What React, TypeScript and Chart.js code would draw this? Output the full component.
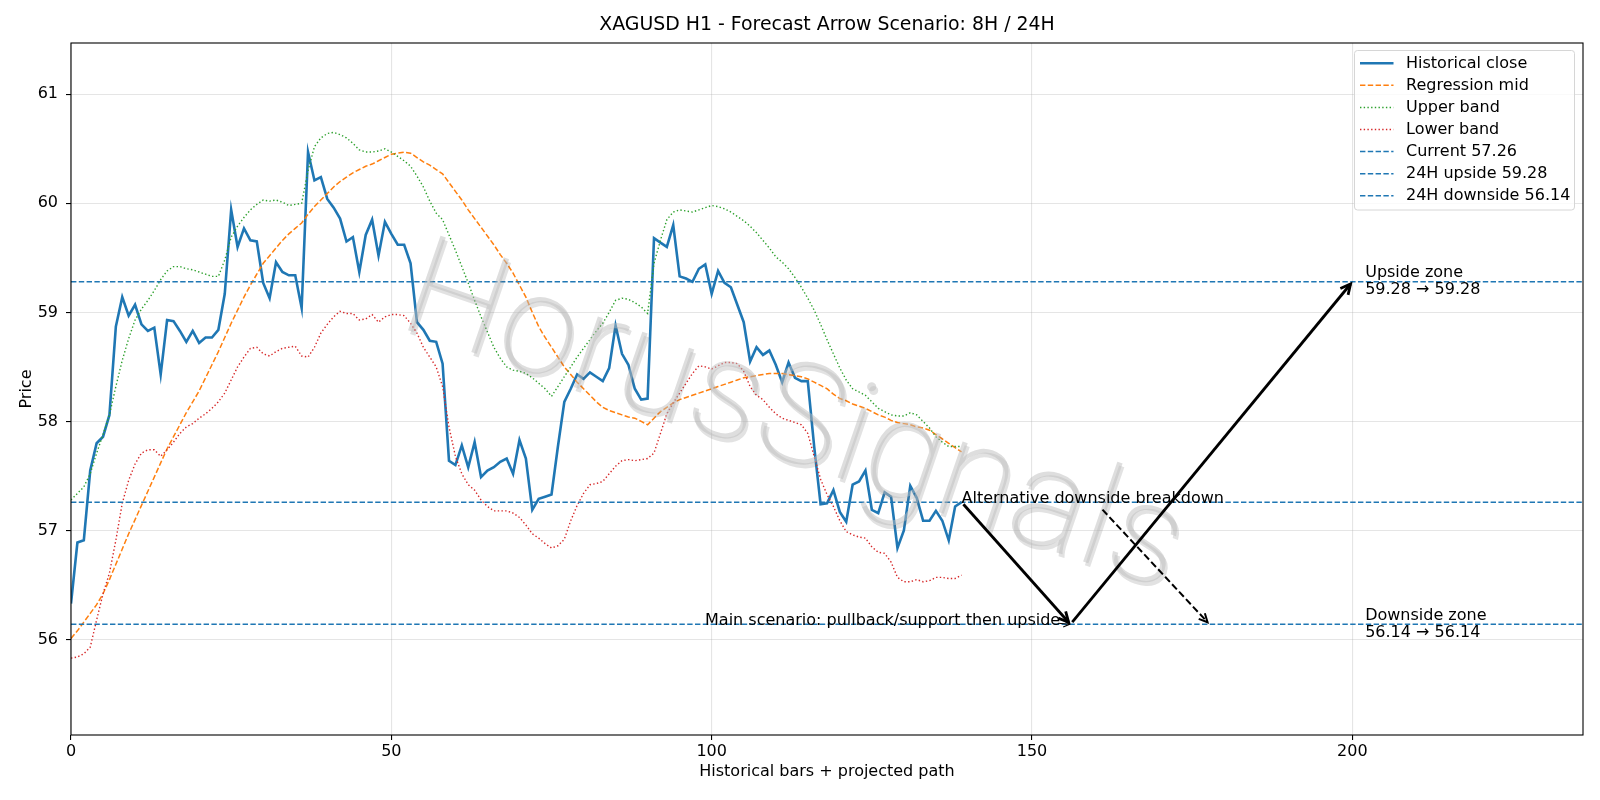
import React, { useEffect, useRef } from "react";
import { Chart, registerables } from "chart.js";

Chart.register(...registerables);

// ---- chart values ----------------------------------------------------------
const TITLE = "XAGUSD H1 - Forecast Arrow Scenario: 8H / 24H";
const X_LABEL = "Historical bars + projected path";
const Y_LABEL = "Price";
const WATERMARK = "HorusSignals";

const CURRENT = 57.26;
const UPSIDE = 59.28;
const DOWNSIDE = 56.14;

const X_MIN = 0;
const X_MAX = 236;
const Y_MIN = 55.125;
const Y_MAX = 61.47;
const xTicks = [0, 50, 100, 150, 200];
const yTicks = [56, 57, 58, 59, 60, 61];

const closePrices = [
  56.33, 56.89, 56.91, 57.55, 57.8, 57.86, 58.06, 58.87, 59.14, 58.97,
  59.07, 58.89, 58.83, 58.86, 58.43, 58.93, 58.92, 58.83, 58.73, 58.83,
  58.72, 58.77, 58.77, 58.84, 59.17, 59.94, 59.6, 59.77, 59.66, 59.65,
  59.27, 59.13, 59.46, 59.37, 59.34, 59.34, 59.04, 60.47, 60.21, 60.24,
  60.04, 59.96, 59.86, 59.65, 59.69, 59.37, 59.71, 59.85, 59.52, 59.83,
  59.72, 59.62, 59.62, 59.45, 58.91, 58.84, 58.74, 58.73, 58.53, 57.64,
  57.6, 57.78, 57.58, 57.81, 57.49, 57.55, 57.58, 57.63, 57.66, 57.52,
  57.83, 57.66, 57.19, 57.29, 57.31, 57.33, 57.77, 58.18, 58.3, 58.43,
  58.39, 58.45, 58.41, 58.37, 58.49, 58.88, 58.62, 58.52, 58.3, 58.2,
  58.21, 59.68, 59.64, 59.6, 59.8, 59.33, 59.31, 59.28, 59.4, 59.44,
  59.17, 59.38, 59.27, 59.23, 59.07, 58.91, 58.55, 58.68, 58.61, 58.65,
  58.52, 58.36, 58.54, 58.4, 58.37, 58.37, 57.77, 57.24, 57.25, 57.37,
  57.17, 57.08, 57.42, 57.45, 57.55, 57.19, 57.16, 57.35, 57.31, 56.84,
  57.0, 57.41, 57.3, 57.09, 57.09, 57.18, 57.09, 56.91, 57.22, 57.26,
];

const regressionMid = [
  56.01, 56.08, 56.16, 56.24, 56.32, 56.42, 56.55, 56.69, 56.83, 56.97,
  57.1, 57.23, 57.36, 57.49, 57.62, 57.75, 57.86, 57.97, 58.08, 58.18,
  58.28, 58.4, 58.52, 58.64, 58.77, 58.9, 59.02, 59.14, 59.25, 59.35,
  59.45, 59.52, 59.59, 59.66, 59.72, 59.77, 59.82, 59.9, 59.97, 60.03,
  60.09, 60.15, 60.2, 60.24, 60.28, 60.31, 60.34, 60.36, 60.39, 60.42,
  60.45, 60.46, 60.47, 60.46, 60.42, 60.38, 60.35, 60.31, 60.27, 60.19,
  60.11, 60.03, 59.94, 59.86, 59.78, 59.7, 59.62, 59.53, 59.45, 59.36,
  59.25, 59.14, 59.0, 58.87, 58.77, 58.68, 58.59, 58.5, 58.43, 58.36,
  58.3, 58.24, 58.18, 58.13, 58.1, 58.08, 58.06, 58.04, 58.03, 58.0,
  57.97, 58.03, 58.09, 58.13, 58.17, 58.2, 58.22, 58.24, 58.26, 58.28,
  58.3, 58.32, 58.34, 58.36, 58.38, 58.4, 58.41, 58.42, 58.43, 58.44,
  58.44, 58.44, 58.43, 58.42, 58.41, 58.39, 58.36, 58.33, 58.3, 58.25,
  58.21, 58.19, 58.16, 58.14, 58.12, 58.09, 58.06, 58.04, 58.01, 57.99,
  57.98, 57.97, 57.95, 57.94, 57.92, 57.88, 57.84, 57.8, 57.76, 57.72,
];

const upperBand = [
  57.28, 57.34, 57.4, 57.52, 57.71, 57.88, 58.06, 58.32, 58.56, 58.76,
  58.93, 59.03, 59.11, 59.2, 59.3, 59.38, 59.42, 59.42, 59.4, 59.39,
  59.37, 59.35, 59.33, 59.33, 59.48, 59.69, 59.79, 59.87, 59.94, 59.99,
  60.03, 60.02, 60.03, 60.01, 59.98, 59.99, 60.0, 60.3, 60.52, 60.6,
  60.64, 60.65, 60.63, 60.6, 60.55, 60.49, 60.47, 60.47, 60.48, 60.5,
  60.47, 60.43, 60.39, 60.34, 60.25, 60.15, 60.02, 59.91, 59.85, 59.71,
  59.57, 59.42, 59.27, 59.11, 58.96, 58.82, 58.68, 58.58, 58.5, 58.47,
  58.46, 58.44, 58.4, 58.35, 58.3, 58.23, 58.32, 58.41, 58.5, 58.59,
  58.67, 58.75, 58.83, 58.9, 59.0, 59.11, 59.13, 59.12, 59.09, 59.05,
  58.99, 59.45, 59.66, 59.85, 59.92, 59.94, 59.93, 59.92, 59.94, 59.96,
  59.98, 59.97, 59.95, 59.92, 59.88, 59.84, 59.79, 59.73, 59.66, 59.59,
  59.51, 59.46, 59.4, 59.32, 59.23, 59.13, 59.02, 58.89, 58.75, 58.62,
  58.49, 58.38, 58.3, 58.27, 58.24, 58.18, 58.12, 58.09, 58.06, 58.05,
  58.05, 58.08, 58.06, 58.0, 57.94, 57.86, 57.81, 57.77, 57.77, 57.77,
];

const lowerBand = [
  55.83, 55.84, 55.87, 55.93, 56.18, 56.42, 56.61, 56.91, 57.25, 57.46,
  57.61, 57.71, 57.74, 57.74, 57.68, 57.74, 57.81, 57.89, 57.95, 57.98,
  58.03, 58.07, 58.12, 58.18, 58.26, 58.38, 58.5, 58.59, 58.67, 58.68,
  58.62, 58.6, 58.64, 58.67, 58.68, 58.69, 58.6, 58.59, 58.68, 58.81,
  58.89, 58.96, 59.01, 58.99, 58.99, 58.93, 58.94, 58.98, 58.91, 58.96,
  58.98, 58.98, 58.97, 58.9, 58.81, 58.68, 58.59, 58.5, 58.32, 57.95,
  57.68, 57.52, 57.42, 57.37, 57.28, 57.22, 57.18, 57.18, 57.18, 57.16,
  57.12, 57.05, 56.97, 56.93, 56.88, 56.84, 56.86, 56.92, 57.09, 57.23,
  57.34, 57.42, 57.43, 57.45, 57.52, 57.59, 57.64, 57.65, 57.64, 57.65,
  57.66, 57.71, 57.89, 58.07, 58.17, 58.26, 58.35, 58.44, 58.51, 58.5,
  58.48, 58.51, 58.54, 58.54, 58.53, 58.46, 58.32, 58.24, 58.2, 58.13,
  58.07, 58.03, 58.01, 57.99, 57.97, 57.89, 57.68, 57.47, 57.33, 57.22,
  57.09, 56.99, 56.96, 56.94, 56.93, 56.85, 56.8, 56.79, 56.71, 56.57,
  56.53, 56.53, 56.55, 56.53, 56.54, 56.57, 56.57, 56.56, 56.56, 56.59,
];

// projected main path: current -> support -> upside target
const mainPathX = [139, 156, 200];
const mainPathY = [CURRENT, DOWNSIDE, UPSIDE];
// alternative breakdown arrow (dashed)
const altPathX = [160.7, 177.7];
const altPathY = [57.21, DOWNSIDE];

const MAIN_TEXT = "Main scenario: pullback/support then upside";
const ALT_TEXT = "Alternative downside breakdown";
const MAIN_TEXT_X = 154.4;
const ZONE_TEXT_X = 202;

const legendLabels = [
  "Historical close",
  "Regression mid",
  "Upper band",
  "Lower band",
  `Current ${CURRENT.toFixed(2)}`,
  `24H upside ${UPSIDE.toFixed(2)}`,
  `24H downside ${DOWNSIDE.toFixed(2)}`,
];

// ---- styling ----------------------------------------------------------------
const FONT = "'DejaVu Sans', 'Liberation Sans', sans-serif";
const MARK_FONT = "Roboto, 'Open Sans', 'DejaVu Sans', sans-serif";
const TEXT_PX = 16;
const TITLE_PX = 18.9;
const BLUE = "#1f77b4";
const ORANGE = "#ff7f0e";
const GREEN = "#2ca02c";
const RED = "#d62728";
const DASH = [5.4, 2.4];
const DOT = [1.4, 2.3];

const legendStyles = [
  { color: BLUE, width: 2.6, dash: [] as number[] },
  { color: ORANGE, width: 1.5, dash: DASH },
  { color: GREEN, width: 1.4, dash: DOT },
  { color: RED, width: 1.4, dash: DOT },
  { color: BLUE, width: 1.5, dash: DASH },
  { color: BLUE, width: 1.5, dash: DASH },
  { color: BLUE, width: 1.5, dash: DASH },
];

const toPoints = (ys: number[]) => ys.map((y, i) => ({ x: i, y }));
const hLine = (y: number) => [
  { x: X_MIN, y },
  { x: X_MAX, y },
];

function drawArrow(
  ctx: CanvasRenderingContext2D,
  x1: number,
  y1: number,
  x2: number,
  y2: number,
  opts: { width: number; dash: number[]; headLen: number; headW: number; shrink: number }
) {
  const dx = x2 - x1;
  const dy = y2 - y1;
  const len = Math.hypot(dx, dy) || 1;
  const ux = dx / len;
  const uy = dy / len;
  const sx = x1 + ux * opts.shrink;
  const sy = y1 + uy * opts.shrink;
  const ex = x2 - ux * opts.shrink;
  const ey = y2 - uy * opts.shrink;
  ctx.save();
  ctx.strokeStyle = "#000";
  ctx.lineWidth = opts.width;
  ctx.lineCap = "butt";
  ctx.lineJoin = "miter";
  ctx.setLineDash(opts.dash);
  ctx.beginPath();
  ctx.moveTo(sx, sy);
  ctx.lineTo(ex, ey);
  ctx.stroke();
  ctx.setLineDash([]);
  ctx.beginPath();
  ctx.moveTo(ex - ux * opts.headLen - uy * opts.headW, ey - uy * opts.headLen + ux * opts.headW);
  ctx.lineTo(ex, ey);
  ctx.lineTo(ex - ux * opts.headLen + uy * opts.headW, ey - uy * opts.headLen - ux * opts.headW);
  ctx.stroke();
  ctx.restore();
}

const decorPlugin = {
  id: "decor",
  beforeDraw(chart: any) {
    const ctx = chart.ctx as CanvasRenderingContext2D;
    ctx.save();
    ctx.fillStyle = "#fff";
    ctx.fillRect(0, 0, chart.width, chart.height);
    ctx.restore();
  },
  afterDatasetsDraw(chart: any) {
    const ctx = chart.ctx as CanvasRenderingContext2D;
    const xs = chart.scales.x;
    const ys = chart.scales.y;
    const px = (v: number) => xs.getPixelForValue(v);
    const py = (v: number) => ys.getPixelForValue(v);
    const area = chart.chartArea;

    // watermark: thin pale lettering with a soft offset shadow
    ctx.save();
    ctx.beginPath();
    ctx.rect(area.left, area.top, area.right - area.left, area.bottom - area.top);
    ctx.clip();
    ctx.translate(px(112.6), py(57.97));
    ctx.rotate(0.33);
    ctx.font = `200 120px ${MARK_FONT}`;
    const natural = ctx.measureText(WATERMARK).width || 1;
    const size = 120 * (815 / natural);
    ctx.font = `200 ${size.toFixed(1)}px ${MARK_FONT}`;
    ctx.textAlign = "center";
    ctx.textBaseline = "middle";
    ctx.fillStyle = "rgba(110,110,110,0.2)";
    ctx.fillText(WATERMARK, 3, 3);
    ctx.fillStyle = "rgba(190,190,190,0.5)";
    ctx.fillText(WATERMARK, 0, 0);
    ctx.restore();

    // projected path arrows
    for (let k = 0; k < mainPathX.length - 1; k++) {
      drawArrow(ctx, px(mainPathX[k]), py(mainPathY[k]), px(mainPathX[k + 1]), py(mainPathY[k + 1]), {
        width: 2.8,
        dash: [],
        headLen: 10,
        headW: 5,
        shrink: 2.8,
      });
    }
    drawArrow(ctx, px(altPathX[0]), py(altPathY[0]), px(altPathX[1]), py(altPathY[1]), {
      width: 2,
      dash: [7, 3.2],
      headLen: 8.5,
      headW: 4.2,
      shrink: 2.8,
    });

    // annotation texts
    ctx.save();
    ctx.fillStyle = "#000";
    ctx.font = `${TEXT_PX}px ${FONT}`;
    ctx.textBaseline = "alphabetic";
    ctx.textAlign = "left";
    ctx.fillText(ALT_TEXT, px(mainPathX[0]), py(CURRENT) + 0.5);
    ctx.textAlign = "right";
    ctx.fillText(MAIN_TEXT, px(MAIN_TEXT_X), py(DOWNSIDE) + 0.5);
    ctx.textAlign = "left";
    ctx.fillText("Upside zone", px(ZONE_TEXT_X), py(UPSIDE) - 4.5);
    ctx.fillText(`${UPSIDE.toFixed(2)} \u2192 ${UPSIDE.toFixed(2)}`, px(ZONE_TEXT_X), py(UPSIDE) + 12.5);
    ctx.fillText("Downside zone", px(ZONE_TEXT_X), py(DOWNSIDE) - 4.5);
    ctx.fillText(`${DOWNSIDE.toFixed(2)} \u2192 ${DOWNSIDE.toFixed(2)}`, px(ZONE_TEXT_X), py(DOWNSIDE) + 12.5);
    ctx.restore();

    // small pointer from the main scenario label to the support point
    drawArrow(ctx, px(MAIN_TEXT_X) - 2, py(DOWNSIDE) - 1, px(mainPathX[1]) - 1, py(DOWNSIDE), {
      width: 1.1,
      dash: [],
      headLen: 6,
      headW: 3.2,
      shrink: 0,
    });

    // axes frame
    ctx.save();
    ctx.strokeStyle = "#000";
    ctx.lineWidth = 1.1;
    ctx.strokeRect(area.left, area.top, area.right - area.left, area.bottom - area.top);
    ctx.restore();

    // legend
    ctx.save();
    const lx = 1354.5;
    const ly = 50.5;
    const lw = 220;
    const lh = 159.5;
    const r = 3;
    ctx.beginPath();
    ctx.moveTo(lx + r, ly);
    ctx.lineTo(lx + lw - r, ly);
    ctx.arcTo(lx + lw, ly, lx + lw, ly + r, r);
    ctx.lineTo(lx + lw, ly + lh - r);
    ctx.arcTo(lx + lw, ly + lh, lx + lw - r, ly + lh, r);
    ctx.lineTo(lx + r, ly + lh);
    ctx.arcTo(lx, ly + lh, lx, ly + lh - r, r);
    ctx.lineTo(lx, ly + r);
    ctx.arcTo(lx, ly, lx + r, ly, r);
    ctx.closePath();
    ctx.fillStyle = "rgba(255,255,255,0.8)";
    ctx.fill();
    ctx.strokeStyle = "#d6d6d6";
    ctx.lineWidth = 1;
    ctx.stroke();
    ctx.font = `${TEXT_PX}px ${FONT}`;
    ctx.textBaseline = "middle";
    ctx.textAlign = "left";
    legendLabels.forEach((label, k) => {
      const yy = 63.3 + k * 22.07;
      const st = legendStyles[k];
      ctx.strokeStyle = st.color;
      ctx.lineWidth = st.width;
      ctx.setLineDash(st.dash);
      ctx.beginPath();
      ctx.moveTo(1360, yy);
      ctx.lineTo(1393.5, yy);
      ctx.stroke();
      ctx.setLineDash([]);
      ctx.fillStyle = "#000";
      ctx.fillText(label, 1406, yy + 0.5);
    });
    ctx.restore();

    // title and axis labels
    ctx.save();
    ctx.fillStyle = "#000";
    ctx.textAlign = "center";
    ctx.textBaseline = "alphabetic";
    ctx.font = `${TITLE_PX}px ${FONT}`;
    ctx.fillText(TITLE, (area.left + area.right) / 2, 30);
    ctx.font = `${TEXT_PX}px ${FONT}`;
    ctx.fillText(X_LABEL, (area.left + area.right) / 2, 776);
    ctx.translate(26.5, (area.top + area.bottom) / 2);
    ctx.rotate(-Math.PI / 2);
    ctx.textBaseline = "middle";
    ctx.fillText(Y_LABEL, 0, 0);
    ctx.restore();
  },
};

export default function App() {
  const canvasRef = useRef<HTMLCanvasElement | null>(null);

  useEffect(() => {
    const canvas = canvasRef.current;
    if (!canvas) return;

    const lineBase = { pointRadius: 0, pointHoverRadius: 0, tension: 0, fill: false };

    const chart = new Chart(canvas, {
      type: "line",
      data: {
        datasets: [
          { ...lineBase, label: legendLabels[0], data: toPoints(closePrices), borderColor: BLUE, borderWidth: 2.6, order: 7 },
          { ...lineBase, label: legendLabels[1], data: toPoints(regressionMid), borderColor: ORANGE, borderWidth: 1.5, borderDash: DASH, order: 6 },
          { ...lineBase, label: legendLabels[2], data: toPoints(upperBand), borderColor: GREEN, borderWidth: 1.4, borderDash: DOT, order: 5 },
          { ...lineBase, label: legendLabels[3], data: toPoints(lowerBand), borderColor: RED, borderWidth: 1.4, borderDash: DOT, order: 4 },
          { ...lineBase, label: legendLabels[4], data: hLine(CURRENT), borderColor: BLUE, borderWidth: 1.5, borderDash: DASH, order: 3 },
          { ...lineBase, label: legendLabels[5], data: hLine(UPSIDE), borderColor: BLUE, borderWidth: 1.5, borderDash: DASH, order: 2 },
          { ...lineBase, label: legendLabels[6], data: hLine(DOWNSIDE), borderColor: BLUE, borderWidth: 1.5, borderDash: DASH, order: 1 },
        ] as any,
      },
      options: {
        animation: false,
        responsive: false,
        maintainAspectRatio: false,
        devicePixelRatio: 1,
        events: [],
        layout: { padding: { top: 43, right: 17, left: 0, bottom: 0 } },
        plugins: {
          legend: { display: false },
          title: { display: false },
          tooltip: { enabled: false },
        },
        scales: {
          x: {
            type: "linear",
            min: X_MIN,
            max: X_MAX,
            afterBuildTicks: (s: any) => {
              s.ticks = xTicks.map((v) => ({ value: v }));
            },
            afterFit: (s: any) => {
              s.height = 65;
            },
            grid: {
              color: "rgba(176,176,176,0.33)",
              lineWidth: 1.1,
              tickLength: 5,
              tickColor: "#000",
              tickWidth: 1.1,
            },
            border: { display: false },
            ticks: {
              color: "#000",
              font: { family: FONT, size: TEXT_PX },
              padding: 2,
              maxRotation: 0,
              autoSkip: false,
              callback: (v: any) => String(v),
            },
          },
          y: {
            type: "linear",
            min: Y_MIN,
            max: Y_MAX,
            afterBuildTicks: (s: any) => {
              s.ticks = yTicks.map((v) => ({ value: v }));
            },
            afterFit: (s: any) => {
              s.width = 71;
            },
            grid: {
              color: "rgba(176,176,176,0.33)",
              lineWidth: 1.1,
              tickLength: 5,
              tickColor: "#000",
              tickWidth: 1.1,
            },
            border: { display: false },
            ticks: {
              color: "#000",
              font: { family: FONT, size: TEXT_PX },
              padding: 8,
              autoSkip: false,
              callback: (v: any) => String(v),
            },
          },
        },
      } as any,
      plugins: [decorPlugin],
    });

    return () => chart.destroy();
  }, []);

  return (
    <div style={{ position: "absolute", left: 0, top: 0, width: 1600, height: 800, background: "#fff" }}>
      <canvas ref={canvasRef} width={1600} height={800} style={{ width: 1600, height: 800, display: "block" }} />
    </div>
  );
}
